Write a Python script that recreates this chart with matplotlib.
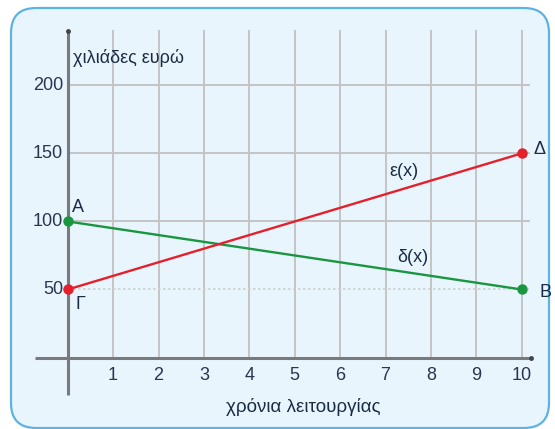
import matplotlib
matplotlib.use("Agg")
import matplotlib.pyplot as plt
from matplotlib.patches import FancyBboxPatch

plt.rcParams['font.family'] = ['Liberation Sans', 'DejaVu Sans']

# data
years = [0, 10]
eps_vals = [50, 150]      # ε(x): Γ -> Δ
delta_vals = [100, 50]    # δ(x): A -> B
x_ticks = [1, 2, 3, 4, 5, 6, 7, 8, 9, 10]
y_ticks = [50, 100, 150, 200]
grid_top = 240

txt_col = '#1c2b45'
grid_col = '#c4c4c4'

fig = plt.figure(figsize=(5.55, 4.29), dpi=100)
fig.patch.set_facecolor('white')

# rounded panel (behind the axes)
box = FancyBboxPatch((0.11, 0.01), 5.38, 4.20,
                     boxstyle="round,pad=0,rounding_size=0.25",
                     transform=fig.dpi_scale_trans,
                     facecolor='#e9f5fd', edgecolor='#5db3e4', linewidth=1.6,
                     zorder=-5)
fig.patches.append(box)

ax = fig.add_axes([0, 0, 1, 1])
ax.set_xlim(-1.491, 10.733)
ax.set_ylim(-52.5, 262.7)
ax.axis('off')

# grid
for xv in x_ticks:
    ax.plot([xv, xv], [0, grid_top], color=grid_col, lw=1.4, zorder=1)
for yv in y_ticks:
    if yv == 50:
        ax.plot([0, 10.15], [yv, yv], color='#cfcfcf', lw=1.2, ls=(0, (1.5, 1.5)), zorder=1)
    else:
        ax.plot([0, 10.15], [yv, yv], color=grid_col, lw=1.4, zorder=1)

# axes lines
ax.plot([0, 0], [-27.5, grid_top], color='#7a7a7a', lw=2.2, zorder=2, solid_capstyle='butt')
ax.plot([-0.72, 10.2], [0, 0], color='#7a7a7a', lw=2.2, zorder=2, solid_capstyle='butt')
ax.plot([0], [grid_top], marker='o', ms=2.5, color='#444444', zorder=2)
ax.plot([10.2], [0], marker='o', ms=2.5, color='#444444', zorder=2)

# tick labels
for xv in x_ticks:
    ax.text(xv, -13.5, str(xv), ha='center', va='center', fontsize=13, color='#2a3550')
for yv in y_ticks:
    ax.text(-0.1, yv, str(yv), ha='right', va='center', fontsize=13, color='#2a3550')

ax.text(0.12, 220, 'χιλιάδες ευρώ', ha='left', va='center', fontsize=13, color=txt_col)
ax.text(5.2, -36.5, 'χρόνια λειτουργίας', ha='center', va='center', fontsize=13.5, color=txt_col)

# lines
ax.plot(years, eps_vals, color='#e3202b', lw=1.7, marker='o', ms=6.5, zorder=4)
ax.plot(years, delta_vals, color='#1a9640', lw=1.7, marker='o', ms=6.5, zorder=3)

# labels
ax.text(0.1, 110.5, 'A', ha='left', va='center', fontsize=13, color=txt_col)
ax.text(0.18, 39, 'Γ', ha='left', va='center', fontsize=13, color=txt_col)
ax.text(10.25, 153, 'Δ', ha='left', va='center', fontsize=13, color=txt_col)
ax.text(10.4, 47.5, 'B', ha='left', va='center', fontsize=13, color=txt_col)
ax.text(7.4, 136.5, 'ε(x)', ha='center', va='center', fontsize=13, color=txt_col)
ax.text(7.6, 73.5, 'δ(x)', ha='center', va='center', fontsize=13, color=txt_col)

fig.savefig('out.png', dpi=100)
